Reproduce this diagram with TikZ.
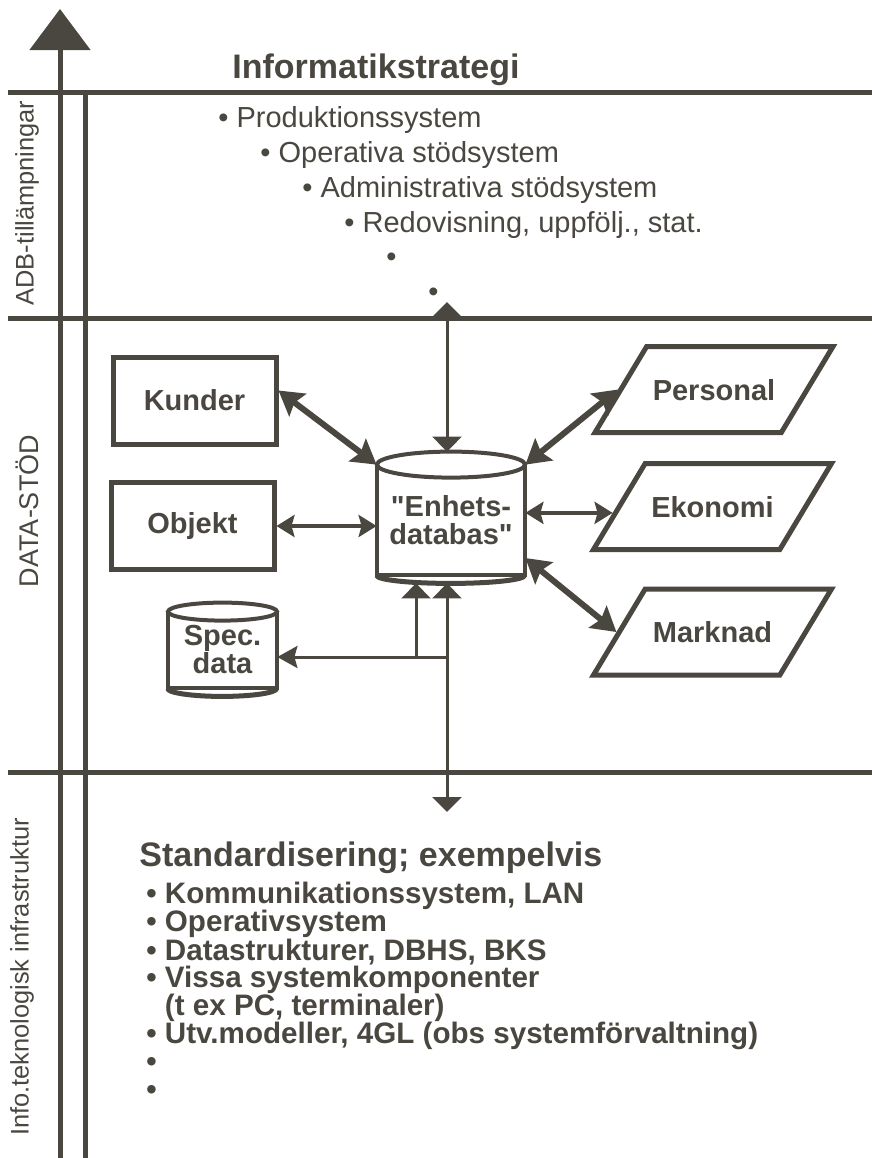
\documentclass[tikz,border=0pt]{standalone}
\usepackage{fontspec}
\setmainfont{Liberation Sans}
\newfontfamily\plainquotes{Liberation Sans}[Ligatures=TeXOff]
\usetikzlibrary{positioning, arrows.meta, shapes.geometric, calc}
\definecolor{ink}{RGB}{74,70,64}

\begin{document}
\begin{tikzpicture}[
            x=0.5pt, y=-0.5pt,
            >={Stealth[inset=1.5pt]},
            every node/.style={text=ink},
            rule/.style={draw=ink, line width=2.5pt},
            level/.style={rotate=90, inner sep=0pt, font=\fontsize{12.7}{14}\selectfont},
            heading/.style={anchor=west, inner sep=0pt, font=\bfseries\fontsize{17}{20}\selectfont},
            item/.style={anchor=west, inner sep=0pt, font=\fontsize{14.5}{16}\selectfont},
            bitem/.style={anchor=west, inner sep=0pt, font=\bfseries\fontsize{14.8}{16}\selectfont},
            entity/.style={draw=ink, line width=2.5pt, rectangle, minimum width=81.5pt, minimum height=43.5pt, font=\bfseries\fontsize{14.5}{16}\selectfont},
            register/.style={draw=ink, line width=2.5pt, trapezium, trapezium left angle=59, trapezium right angle=121, trapezium stretches body, minimum width=119pt, text height=10.5pt, text depth=0pt, inner ysep=16.25pt, inner xsep=0pt, font=\bfseries\fontsize{14.5}{16}\selectfont},
            store/.style={inner sep=0pt, align=center, font=\plainquotes\bfseries\fontsize{14.5}{14}\selectfont},
            heavy/.style={draw=ink, line width=3pt, {Stealth[length=12pt, width=14pt, inset=2pt]}-{Stealth[length=12pt, width=14pt, inset=2pt]}},
            medium/.style={draw=ink, line width=2pt, {Stealth[length=9pt, width=11pt, inset=1.5pt]}-{Stealth[length=9pt, width=11pt, inset=1.5pt]}},
            link/.style={draw=ink, line width=1.5pt},
            flat/.tip={Triangle[length=7.5pt, width=14.5pt]},
        ]
            \useasboundingbox (0,0) rectangle (872,1158);

            % Draw the frame: axis, margin line and the three level rules
            \coordinate (ax-bot) at (60,1158);
            \coordinate (ax-top) at (60,9);
            \draw[rule, -{Triangle[length=20.5pt, width=30pt]}] (ax-bot) -- (ax-top);
            \draw[rule] (85,92) -- (85,1158);
            \foreach \y in {92, 318, 772}
                \draw[rule] (8,\y) -- (872,\y);

            % Draw the level labels
            \node[level] (lvl-adb) at (27,203) {ADB-tillämpningar};
            \node[level, font=\fontsize{13.5}{15}\selectfont] (lvl-data) at (27,511) {DATA-STÖD};
            \node[level] (lvl-infra) at (22,977) {Info.teknologisk infrastruktur};

            % Draw the strategy list
            \node[heading] (strategy) at (232,70) {Informatikstrategi};
            \foreach \txt [count=\i] in {{Produktionssystem}, {Operativa stödsystem}, {Administrativa stödsystem}, {Redovisning, uppfölj., stat.}}
                \node[item] (app-\i) at (176+42*\i, 85+35*\i) {• \txt};
            \foreach \i in {5,6}
                \node[item] (app-\i) at (176+42*\i, 85+35*\i) {•};

            % Draw the data stores
            \node[entity] (kund) at (194.5,400.5) {Kunder};
            \node[entity] (obj) at (192.5,526) {Objekt};
            \node[register] (pers) at (714,389.5) {Personal};
            \node[register] (eko) at (712.5,506.5) {Ekonomi};
            \node[register] (mark) at (712.5,632) {Marknad};

            \node[store, minimum width=74pt, minimum height=55pt] (enh) at (451,520) {"Enhets-\\databas"};
            \draw[ink, line width=2pt] (enh.north west) -- (enh.south west) -- (enh.south east) -- (enh.north east);
            \draw[ink, line width=2pt, fill=white] (enh.north) ellipse [x radius=37pt, y radius=6.5pt];
            \draw[ink, line width=2.5pt] (enh.south west) arc [start angle=180, end angle=360, x radius=37pt, y radius=4pt];

            \node[store, minimum width=54.5pt, minimum height=38pt] (spec) at (222.5,650) {Spec.\\data};
            \draw[ink, line width=2pt] (spec.north west) -- (spec.south west) -- (spec.south east) -- (spec.north east);
            \draw[ink, line width=2pt, fill=white] (spec.north) ellipse [x radius=27.25pt, y radius=4.5pt];
            \draw[ink, line width=2.5pt] (spec.south west) arc [start angle=180, end angle=360, x radius=27.25pt, y radius=4pt];

            \coordinate (enh-top) at ([yshift=6.5pt]enh.north);
            \coordinate (enh-bot) at ([yshift=-4pt]enh.south);

            % Connect the stores with the unit database
            \draw[heavy] ([yshift=5pt]kund.east) -- (enh.north west);
            \draw[heavy] (enh.north east) -- (pers.west);
            \draw[heavy] ([yshift=-19pt]enh.east) -- (mark.west);
            \draw[medium] (obj.east) -- (enh.west |- obj.east);
            \coordinate (eko-in) at ($(eko.bottom left corner)!0.43!(eko.top left corner)$);
            \draw[medium] (enh.east |- eko-in) -- (eko-in);

            % Connect the levels
            \coordinate (strat) at (447,302);
            \coordinate (infra) at (447,812);
            \coordinate (fork) at (447,657);
            \coordinate (split) at (416,657);
            \draw[link, {flat}-{flat}] (strat) -- (strat |- enh-top);
            \draw[link, {flat}-{flat}] (infra) -- (infra |- enh-bot);
            \draw[link, -{flat}] (split) -- (split |- enh-bot);
            \draw[link, -{Stealth[length=10pt, width=11pt, inset=1.5pt]}] (fork) -- (spec.east |- fork);

            % Draw the standardisation list
            \node[heading] (standard) at (139,858) {Standardisering; exempelvis};
            \foreach \txt [count=\i] in {{• Kommunikationssystem, LAN}, {• Operativsystem}, {• Datastrukturer, DBHS, BKS}, {• Vissa systemkomponenter}, {\phantom{•} (t ex PC, terminaler)}, {• Utv.modeller, 4GL (obs systemförvaltning)}, {•}, {•}}
                \node[bitem] (std-\i) at (146, 868+28*\i) {\txt};
        \end{tikzpicture}
\end{document}
